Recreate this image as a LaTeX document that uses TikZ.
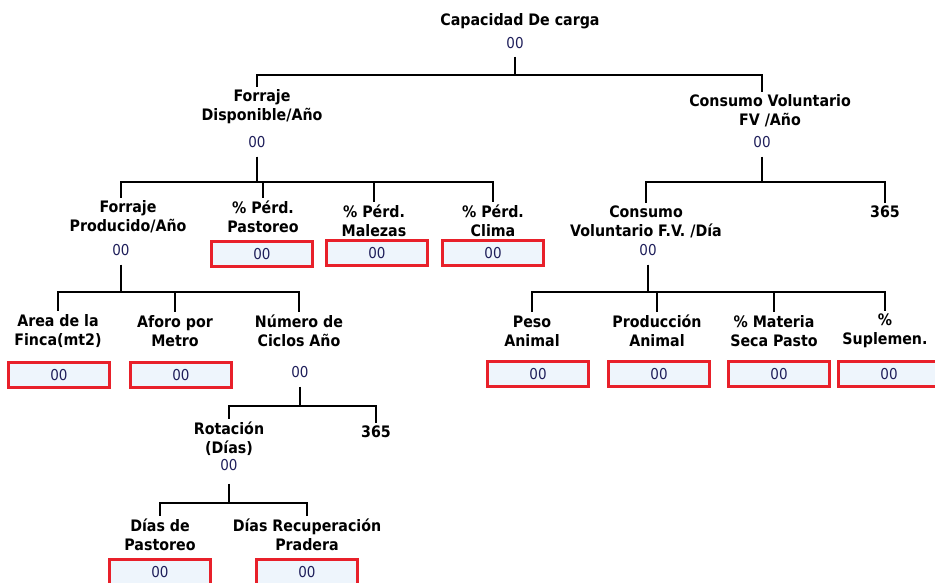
\documentclass[tikz,border=0pt]{standalone}
\usepackage{fontspec}
\setmainfont{DejaVu Sans Condensed}
\begin{document}
\begin{tikzpicture}[x=1pt,y=-1pt,
  lbl/.style={align=center,font=\fontsize{15.8}{19}\selectfont\bfseries,text=black,inner xsep=1pt,inner ysep=3pt},
  val/.style={font=\fontsize{15}{17}\selectfont,text=valc,inner sep=1pt},
  inbox/.style={draw=boxred,line width=2.8pt,fill=boxfill,minimum width=101pt,minimum height=25pt,inner sep=0pt,font=\fontsize{15}{17}\selectfont,text=valc},
  conn/.style={line width=2.8pt,black}]
\definecolor{valc}{HTML}{1E1E5A}
\definecolor{boxred}{HTML}{E8202A}
\definecolor{boxfill}{HTML}{EEF5FC}
\useasboundingbox (0,0) rectangle (935,583);
% root
\node[lbl] (root) at (520,21) {Capacidad De carga};
\node[val] (rootv) at (515,43) {00};
\coordinate (bar1) at (0,75);
\coordinate (bar2) at (0,182);
\coordinate (bar4) at (0,292);
\coordinate (bar6) at (0,406);
\coordinate (bar7) at (0,503);
% level 1
\node[lbl] (fd) at (262,107) {Forraje\\Disponible/Año};
\node[val] (fdv) at (257,142) {00};
\node[lbl] (cv) at (770,111) {Consumo Voluntario\\FV /Año};
\node[val] (cvv) at (762,142) {00};
% level 2 left
\node[lbl] (fp) at (128,217) {Forraje\\Producido/Año};
\node[val] (fpv) at (121,250) {00};
\node[lbl] (pp) at (263,217) {\% Pérd.\\Pastoreo};
\node[inbox] (ppb) at (262,254) {00};
\node[lbl] (pm) at (374,221) {\% Pérd.\\Malezas};
\node[inbox] (pmb) at (377,253) {00};
\node[lbl] (pc) at (493,221) {\% Pérd.\\Clima};
\node[inbox] (pcb) at (493,253) {00};
% level 2 right
\node[lbl] (cd) at (646,222) {Consumo\\Voluntario F.V. /Día};
\node[val] (cdv) at (648,250) {00};
\node[lbl] (c365) at (885,212) {365};
% level 3 right
\node[lbl] (pa) at (532,331) {Peso\\Animal};
\node[inbox] (pab) at (538,374) {00};
\node[lbl] (pr) at (657,331) {Producción\\Animal};
\node[inbox] (prb) at (659,374) {00};
\node[lbl] (ms) at (774,331) {\% Materia\\Seca Pasto};
\node[inbox] (msb) at (779,374) {00};
\node[lbl] (su) at (885,331) {\%\\Suplemen.};
\node[inbox] (sub) at (889,374) {00};
% level 3 left
\node[lbl] (af) at (58,331) {Area de la\\Finca(mt2)};
\node[inbox] (afb) at (59,375) {00};
\node[lbl] (ap) at (175,331) {Aforo por\\Metro};
\node[inbox] (apb) at (181,375) {00};
\node[lbl] (nc) at (299,331) {Número de\\Ciclos Año};
\node[val] (ncv) at (300,372) {00};
% level 4
\node[lbl] (ro) at (229,439) {Rotación\\(Días)};
\node[val] (rov) at (229,465) {00};
\node[lbl] (r365) at (376,432) {365};
% level 5
\node[lbl] (dp) at (160,535) {Días de\\Pastoreo};
\node[inbox] (dpb) at (160,572) {00};
\node[lbl] (dr) at (307,535) {Días Recuperación\\Pradera};
\node[inbox] (drb) at (307,572) {00};
% connectors
\coordinate (p0) at ([yshift=-7pt]rootv.south);
\draw[conn] (p0) -- (p0|-bar1) -| (fdv|-fd.north);
\draw[conn] (p0) -- (p0|-bar1) -| (cvv|-cv.north);
\coordinate (p1) at ([yshift=-8pt]fdv.south);
\draw[conn] (p1) -- (p1|-bar2) -| (fpv|-fp.north);
\draw[conn] (p1) -- (p1|-bar2) -| (pp.north);
\draw[conn] (p1) -- (p1|-bar2) -| (pm.north);
\draw[conn] (p1) -- (p1|-bar2) -| (pc.north);
\coordinate (p2) at ([yshift=-8pt]cvv.south);
\draw[conn] (p2) -- (p2|-bar2) -| (cd.north);
\draw[conn] (p2) -- (p2|-bar2) -| (c365.north);
\coordinate (p3) at ([yshift=-8pt]cdv.south);
\draw[conn] (p3) -- (p3|-bar4) -| (pa.north);
\draw[conn] (p3) -- (p3|-bar4) -| (pr.north);
\draw[conn] (p3) -- (p3|-bar4) -| (ms.north);
\draw[conn] (p3) -- (p3|-bar4) -| (su.north);
\coordinate (p4) at ([yshift=-8pt]fpv.south);
\draw[conn] (p4) -- (p4|-bar4) -| (af.north);
\draw[conn] (p4) -- (p4|-bar4) -| (ap.north);
\draw[conn] (p4) -- (p4|-bar4) -| (nc.north);
\coordinate (p5) at ([yshift=-8pt]ncv.south);
\draw[conn] (p5) -- (p5|-bar6) -| (ro.north);
\draw[conn] (p5) -- (p5|-bar6) -| (r365.north);
\coordinate (p6) at ([yshift=-12pt]rov.south);
\draw[conn] (p6) -- (p6|-bar7) -| (dp.north);
\draw[conn] (p6) -- (p6|-bar7) -| (dr.north);
\end{tikzpicture}
\end{document}
